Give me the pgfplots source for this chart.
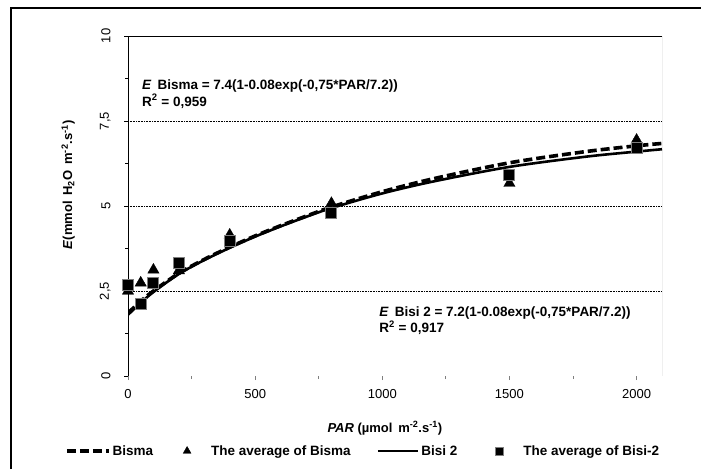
\documentclass[border=0pt]{standalone}
\usepackage{fontspec}
\setmainfont{Liberation Sans}
\usepackage{pgfplots}
\pgfplotsset{compat=1.18}
\definecolor{axgray}{HTML}{7F7F7F}
\pgfplotsset{
  legline/.style={legend image code/.code={\draw[##1] (0pt,0pt) -- (#1,0pt);}},
  legmark/.style 2 args={legend image code/.code={\path[draw=none,fill=none] (0pt,0pt) -- (#2+22pt,0pt);
    \draw[##1,/tikz/mark size=#1] plot coordinates {(#2,0pt)};}},
}

\begin{document}
\begin{tikzpicture}
\useasboundingbox (0pt,0pt) rectangle (701pt,469pt);
\draw[line width=1.2pt] (11pt,0pt) -- (11pt,461pt) -- (701pt,461pt);
\begin{axis}[
  at={(128pt,93pt)}, anchor=south west,
  scale only axis, width=534pt, height=340pt,
  xmin=0, xmax=2100, ymin=0, ymax=10,
  axis line style={draw=none},
  font=\fontsize{13}{15}\selectfont,
  tick label style={/pgf/number format/use comma, /pgf/number format/1000 sep={},
    /pgf/number format/assume math mode=true},
  xtick={0,500,1000,1500,2000}, minor x tick num=1,
  ytick={0,2.5,5,7.5,10}, minor y tick num=1,
  tick align=outside,
  major tick length=4pt, minor tick length=3pt,
  x tick style={axgray,line width=0.8pt},
  y tick style={black,line width=0.8pt},
  xtick pos=bottom, ytick pos=left,
  xticklabel style={yshift=-6pt},
  yticklabel style={rotate=90, anchor=south, yshift=10pt},
  xlabel={\textbf{\textit{PAR} (µmol\, m\textsuperscript{-2}.s\textsuperscript{-1})}},
  ylabel={\textbf{\textit{E}(mmol\, H\textsubscript{2}O\, m\textsuperscript{-2}.s\textsuperscript{-1})}},
  every axis x label/.style={at={(rel axis cs:0.481,-0.153)}, anchor=center},
  every axis y label/.style={at={(rel axis cs:-0.112,0.562)}, anchor=center, rotate=90},
  legend columns=4,
  legend style={draw=none, fill=none, inner sep=0pt, outer sep=0pt,
    at={(rel axis cs:-0.118,-0.2206)}, anchor=west,
    font=\fontsize{13.5}{15}\selectfont\bfseries,
    nodes={inner sep=2pt},
    /tikz/every even column/.append style={column sep=24pt}},
]
\draw[densely dotted, line width=0.6pt] (axis cs:0,2.5) -- (axis cs:2100,2.5);
\draw[densely dotted, line width=0.6pt] (axis cs:0,5) -- (axis cs:2100,5);
\draw[densely dotted, line width=0.6pt] (axis cs:0,7.5) -- (axis cs:2100,7.5);
\draw[line width=0.9pt] (rel axis cs:0,0) -- (rel axis cs:0,1) -- (rel axis cs:1,1);
\draw[axgray, line width=0.9pt] (rel axis cs:1,1) -- (rel axis cs:1,0);

% Bisma fitted curve
\addplot[black, line width=3.6pt, dash pattern=on 9pt off 4pt, smooth, legline=42pt]
  coordinates {(0,1.85)(50,2.2)(100,2.5)(200,3.02)(300,3.43)(400,3.79)(500,4.12)
    (600,4.42)(700,4.7)(800,4.97)(1000,5.42)(1200,5.8)(1500,6.27)(1800,6.6)
    (2000,6.77)(2100,6.84)};
\addlegendentry{Bisma}
% Bisma averages
\addplot[only marks, mark=triangle*, mark size=6.5pt, black, legmark={4.5pt}{8pt}]
  coordinates {(0,2.5)(50,2.74)(100,3.12)(200,3.1)(400,4.15)(800,5.08)(1500,5.67)(2000,6.94)};
\addlegendentry{The average of Bisma}
% Bisi 2 fitted curve
\addplot[black, line width=2.6pt, smooth, legline=40pt]
  coordinates {(0,1.8)(50,2.15)(100,2.47)(200,3.0)(300,3.41)(400,3.77)(500,4.1)
    (600,4.4)(700,4.68)(800,4.94)(1000,5.37)(1200,5.72)(1500,6.15)(1800,6.45)
    (2000,6.6)(2100,6.67)};
\addlegendentry{Bisi 2}
% Bisi-2 averages
\addplot[only marks, mark=square*, mark size=5.5pt,
  mark options={fill=black, draw=axgray, line width=1pt}, legmark={4pt}{16pt}]
  coordinates {(0,2.68)(50,2.12)(100,2.74)(200,3.32)(400,3.97)(800,4.8)(1500,5.9)(2000,6.7)};
\addlegendentry{The average of Bisi-2}

\node[anchor=north west, align=left, inner sep=0pt, font=\fontsize{13.5}{16.5}\selectfont\bfseries]
  at (axis cs:55,8.72) {\textit{E}\, Bisma = 7.4(1-0.08exp(-0,75*PAR/7.2))\\R\textsuperscript{2} = 0,959};
\node[anchor=north west, align=left, inner sep=0pt, font=\fontsize{13.5}{16.5}\selectfont\bfseries]
  at (axis cs:988,2.05) {\textit{E}\, Bisi 2 = 7.2(1-0.08exp(-0,75*PAR/7.2))\\R\textsuperscript{2} = 0,917};
\end{axis}
\end{tikzpicture}
\end{document}
